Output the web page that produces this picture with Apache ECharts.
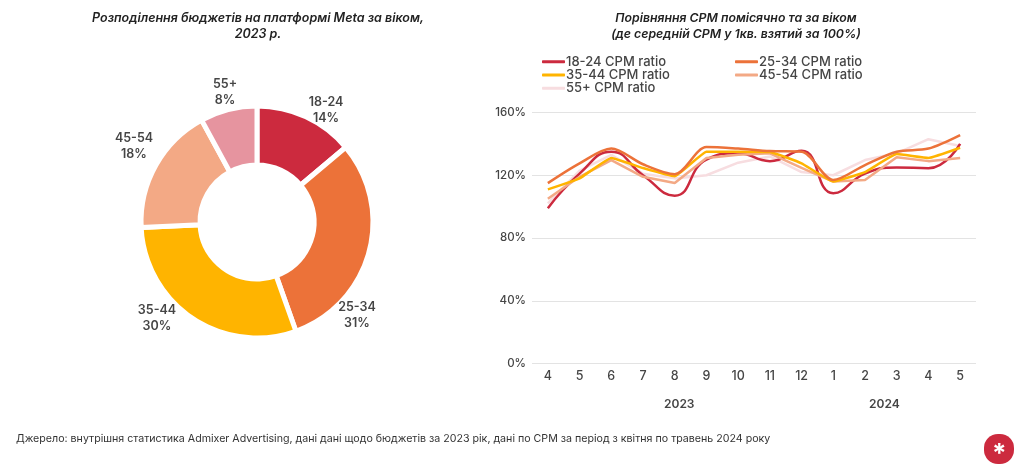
<!DOCTYPE html>
<html><head><meta charset="utf-8">
<style>html,body{margin:0;padding:0;background:#fff}#c{width:1024px;height:471px}</style>
<script src="https://cdn.jsdelivr.net/npm/echarts@6/dist/echarts.min.js"></script></head>
<body><div id="c"></div>
<script>
const ages = ['18-24','25-34','35-44','45-54','55+'];
const shares = [14,31,30,18,8];
const colors = ['#CC2A3E','#EC7239','#FFB400','#F3A985','#E6949F'];
const lineColors = ['#CC2A3E','#EC7239','#FFB400','#F3A985','#F7DDE0'];
const months = ['4','5','6','7','8','9','10','11','12','1','2','3','4','5'];
const years = ['2023','2024'];
const r1824 = [99,121,135,120,107,130,134,129,135.6,108.6,121,125,124.5,140];
const r2534 = [115,127.6,137,127,120.7,138,137,135.4,135,117,126.5,135,137,145.6];
const r3544 = [111,118,131,124.6,119.4,135,135,134.8,127.6,116,122,133.5,131,137.5];
const r4554 = [105,119,129.7,119,115,131,133,134,124.7,116,117,131.5,129,131];
const r55 = [102,123,133,121,118,120,128,132,122,120,129.7,134,143,138.6];
const lineData = [r1824,r2534,r3544,r4554,r55];
const smoothing = [0.5,0.3,0.1,0,0];
const titleLeft = 'Розподілення бюджетів на платформі Meta за віком,\n2023 р.';
const titleRight = 'Порівняння CPM помісячно та за віком\n(де середній CPM у 1кв. взятий за 100%)';
const source = 'Джерело: внутрішня статистика Admixer Advertising, дані дані щодо бюджетів за 2023 рік, дані по CPM за період з квітня по травень 2024 року';
const font = 'Inter';
const txt = '#454545';
const names = ages.map(a => a + ' CPM ratio');
const pieLabelPos = [[326,110],[357,315],[157,318],[134,146],[225,92]];
const legendBase = {orient:'vertical',itemWidth:23,itemHeight:3,itemGap:0,padding:0,icon:'roundRect',
  textStyle:{fontFamily:font,fontSize:13,color:txt,padding:[0,0,0,-4],lineHeight:13.3,fontWeight:500}};
const chart = echarts.init(document.getElementById('c'));
chart.setOption({
  animation:false,
  textStyle:{fontFamily:font},
  title:[
    {text:titleLeft,left:253,top:5,textAlign:'center',textStyle:{fontFamily:font,fontSize:12.5,fontWeight:600,fontStyle:'italic',color:'#222',lineHeight:16}},
    {text:titleRight,left:731,top:5,textAlign:'center',textStyle:{fontFamily:font,fontSize:12.3,fontWeight:600,fontStyle:'italic',color:'#222',lineHeight:16}},
    {text:source,left:11,top:428,textStyle:{fontFamily:font,fontSize:10.65,fontWeight:400,color:'#333'}}
  ],
  legend:[
    Object.assign({},legendBase,{left:542,top:55,data:[names[0],names[2],names[4]]}),
    Object.assign({},legendBase,{left:735,top:55,data:[names[1],names[3]]})
  ],
  grid:{left:532,right:48,top:112.5,bottom:107.5},
  xAxis:{type:'category',data:months,boundaryGap:true,axisLine:{show:false},axisTick:{show:false},
    axisLabel:{margin:6,fontFamily:font,fontSize:12.5,fontWeight:500,color:txt,interval:0}},
  yAxis:{type:'value',min:0,max:160,interval:40,axisLine:{show:false},axisTick:{show:false},
    axisLabel:{formatter:'{value}%',margin:6,fontFamily:font,fontSize:11.5,fontWeight:500,color:txt},
    splitLine:{lineStyle:{color:'#e3e3e3',width:1}}},
  series:[
    {type:'pie',center:[257,222],radius:[57,116],startAngle:90,clockwise:true,
      itemStyle:{borderColor:'#fff',borderWidth:5},
      label:{show:true,position:'outside',formatter:'{b}\n{c}%',fontFamily:font,fontSize:12.5,fontWeight:600,color:txt,lineHeight:16,align:'center'},
      labelLine:{show:false},
      labelLayout:p=>({x:pieLabelPos[p.dataIndex][0],y:pieLabelPos[p.dataIndex][1],align:'center',verticalAlign:'middle'}),
      emphasis:{disabled:true},
      data:ages.map((a,i)=>({name:a,value:shares[i],itemStyle:{color:colors[i]}}))},
    ...names.map((n,i)=>({type:'line',name:n,data:lineData[i],smooth:smoothing[i],symbol:'none',z:[5,8,7,6,4][i],
      lineStyle:{color:lineColors[i],width:2.5},itemStyle:{color:lineColors[i]}}))
  ],
  graphic:[
    {type:'text',left:664,top:398,style:{text:years[0],fontFamily:font,fontSize:12,fontWeight:600,fill:txt}},
    {type:'text',left:869,top:398,style:{text:years[1],fontFamily:font,fontSize:12,fontWeight:600,fill:txt}},
    {type:'rect',shape:{x:984,y:434,width:30,height:30,r:14},style:{fill:'#CC2A3E'}},
    {type:'text',left:992,top:441,style:{text:'*',fontFamily:font,fontSize:26,fontWeight:700,fill:'#fff'}}
  ]
});
</script></body></html>
